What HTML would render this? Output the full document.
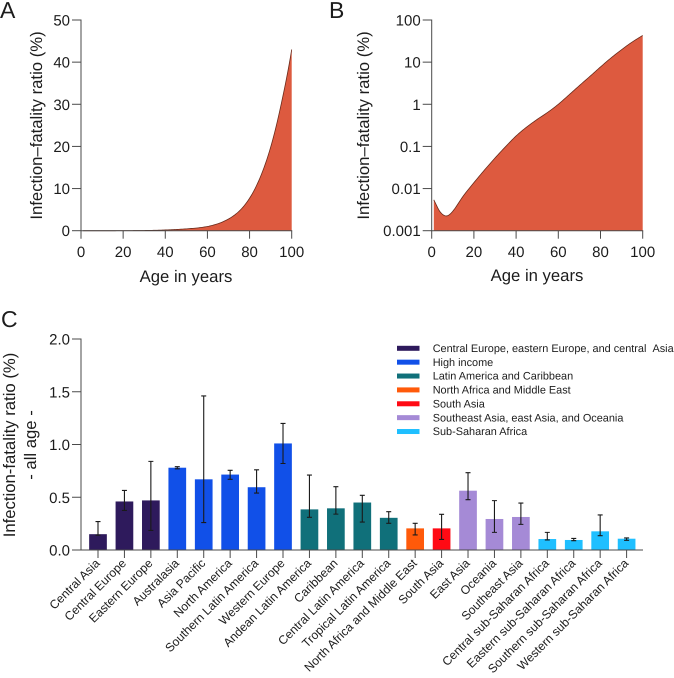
<!DOCTYPE html>
<html>
<head>
<meta charset="utf-8">
<style>
html,body{margin:0;padding:0;background:#fff;width:674px;height:678px;overflow:hidden}
svg{display:block}
text{font-family:"Liberation Sans",Arial,sans-serif;fill:#1c1c1c;text-rendering:geometricPrecision}
</style>
</head>
<body>
<svg id="fig" xmlns="http://www.w3.org/2000/svg" width="674" height="678" viewBox="0 0 674 678">
<rect width="674" height="678" fill="#fff"/>
<text x="0" y="18" font-size="23">A</text>
<text x="329" y="18" font-size="23">B</text>
<text x="1" y="327" font-size="23">C</text>
<text transform="translate(42,125.5) rotate(-90)" text-anchor="middle" font-size="16.7">Infection–fatality ratio (%)</text>
<text x="186" y="282" text-anchor="middle" font-size="16.7">Age in years</text>
<text transform="translate(369,125.5) rotate(-90)" text-anchor="middle" font-size="16.7">Infection–fatality ratio (%)</text>
<text x="537" y="281" text-anchor="middle" font-size="16.7">Age in years</text>
<text transform="translate(15,445) rotate(-90)" text-anchor="middle" font-size="16.7">Infection-fatality ratio (%)</text>
<text transform="translate(36,445) rotate(-90)" text-anchor="middle" font-size="16.7">- all age -</text>
<g id="a"></g>
<g id="b"></g>
<g id="c"></g>
<g id="legend"></g>
</svg>
<script>
var ages = [1,4,7,10,15,20,25,30,35,40,45,50,55,60,65,70,75,80,85,90,95,100];
var ifr = [0.0054,0.0028,0.00224,0.0029,0.0067,0.0138,0.0275,0.053,0.0986,0.177,0.288,0.438,0.645,1.0,1.66,2.78,4.6,7.7,12.6,19.8,30,43];
var ageTicks = [0,20,40,60,80,100];
var linearTicks = [0,10,20,30,40,50];
var logTicks = [0.001,0.01,0.1,1,10,100];
var logTickLabels = ['0.001','0.01','0.1','1','10','100'];
var regionNames = ['Central Asia','Central Europe','Eastern Europe','Australasia','Asia Pacific','North America','Southern Latin America','Western Europe','Andean Latin America','Caribbean','Central Latin America','Tropical Latin America','North Africa and Middle East','South Asia','East Asia','Oceania','Southeast Asia','Central sub-Saharan Africa','Eastern sub-Saharan Africa','Southern sub-Saharan Africa','Western sub-Saharan Africa'];
var regionValues = [0.15,0.46,0.47,0.78,0.67,0.715,0.595,1.01,0.385,0.395,0.45,0.305,0.205,0.205,0.562,0.294,0.313,0.104,0.095,0.177,0.107];
var regionLows = [0.14,0.375,0.185,0.77,0.26,0.67,0.54,0.82,0.31,0.34,0.265,0.253,0.143,0.10,0.477,0.167,0.243,0.095,0.088,0.136,0.092];
var regionHighs = [0.27,0.565,0.84,0.79,1.46,0.755,0.76,1.2,0.71,0.6,0.518,0.363,0.253,0.338,0.733,0.468,0.445,0.167,0.11,0.332,0.114];
var regionGroups = [0,0,0,1,1,1,1,1,2,2,2,2,3,4,5,5,5,6,6,6,6];
var groupNames = ['Central Europe, eastern Europe, and central\u00A0\u00A0Asia','High income','Latin America and Caribbean','North Africa and Middle East','South Asia','Southeast Asia, east Asia, and Oceania','Sub-Saharan Africa'];
var groupColors = ['#2e1a5c','#1150e8','#10707a','#ff5a0a','#ff0a14','#a58ad6','#1fbfff'];
var barTicks = [0,0.5,1,1.5,2];
var barTickLabels = ['0.0','0.5','1.0','1.5','2.0'];

var NS = 'http://www.w3.org/2000/svg';
function mk(parent, tag, attrs, txt){
  var e = document.createElementNS(NS, tag);
  for (var k in attrs) e.setAttribute(k, attrs[k]);
  if (txt !== undefined) e.textContent = txt;
  parent.appendChild(e);
  return e;
}
var AXC = '#4a4a4a', el;

// Smooth curve through the read values: Catmull-Rom in log space, evaluated finely for drawing.
function smoothCurve(){
  var logs = ifr.map(function(v){ return Math.log10(v); });
  var out = [];
  function slope(i){
    var a = Math.max(i - 1, 0), b = Math.min(i + 1, ages.length - 1);
    return (logs[b] - logs[a]) / (ages[b] - ages[a]);
  }
  for (var i = 0; i < ages.length - 1; i++){
    var h = ages[i + 1] - ages[i], m0 = slope(i), m1 = slope(i + 1);
    for (var s = 0; s < 8; s++){
      var t = s / 8, t2 = t * t, t3 = t2 * t;
      var l = (2*t3 - 3*t2 + 1) * logs[i] + (t3 - 2*t2 + t) * h * m0 + (-2*t3 + 3*t2) * logs[i + 1] + (t3 - t2) * h * m1;
      out.push([ages[i] + t * h, Math.pow(10, l)]);
    }
  }
  out.push([ages[ages.length - 1], ifr[ifr.length - 1]]);
  return out;
}

function drawPanel(g, prefix, x0, x1, yFn, yTickVals, yTickLabels, yTop, yBot, xLabelY){
  var xFn = function(v){ return x0 + (x1 - x0) * v / 100; };
  var pts = smoothCurve();
  var d = pts.map(function(p, i){
    return (i ? 'L' : 'M') + xFn(p[0]).toFixed(2) + ' ' + Math.min(yFn(p[1]), yBot).toFixed(2);
  }).join('');
  el = mk(g, 'path', {d: d + 'L' + xFn(pts[pts.length - 1][0]).toFixed(2) + ' ' + yBot + 'L' + xFn(pts[0][0]).toFixed(2) + ' ' + yBot + 'Z', fill: '#dd5a3f'});
  
  
  el = mk(g, 'path', {d: d, fill: 'none', stroke: '#6a2a1a', 'stroke-width': 0.8});
  
  
  el = mk(g, 'line', {x1: x0, x2: x0, y1: yTop - 0.5, y2: yBot + 0.5, stroke: AXC, 'stroke-width': 1});
  
  
  el = mk(g, 'line', {x1: x0 - 0.5, x2: x1 + 0.5, y1: yBot, y2: yBot, stroke: AXC, 'stroke-width': 1});
  
  
  yTickVals.forEach(function(v, i){
    var y = yFn(v);
    el = mk(g, 'line', {x1: x0 - 9, x2: x0, y1: y, y2: y, stroke: AXC, 'stroke-width': 1});
    
    
    el = mk(g, 'text', {x: x0 - 11, y: y + 5.5, 'text-anchor': 'end', 'font-size': 15}, yTickLabels[i]);
    
    
  });
  ageTicks.forEach(function(v){
    var x = xFn(v);
    el = mk(g, 'line', {x1: x, x2: x, y1: yBot, y2: yBot + 8, stroke: AXC, 'stroke-width': 1});
    
    
    el = mk(g, 'text', {x: x, y: xLabelY, 'text-anchor': 'middle', 'font-size': 15}, String(v));
    
    
  });
}

var yTop = 20, yBot = 230.7;
drawPanel(document.getElementById('a'), 'panel-a', 81, 291.7,
  function(v){ return yBot - (yBot - yTop) * v / 50; },
  linearTicks, linearTicks.map(String), yTop, yBot, 257);
drawPanel(document.getElementById('b'), 'panel-b', 431.7, 642.7,
  function(v){ return yBot - (yBot - yTop) * (Math.log10(v) + 3) / 5; },
  logTicks, logTickLabels, yTop, yBot, 257);

var gc = document.getElementById('c');
var cTop = 339, cBot = 550, cX0 = 81, cX1 = 643;
function yC(v){ return cBot - (cBot - cTop) * v / 2; }
function xC(i){ return 98 + i * 26.43; }
var barW = 17.7, capW = 5;
regionNames.forEach(function(name, i){
  var x = xC(i);
  el = mk(gc, 'rect', {x: x - barW / 2, y: yC(regionValues[i]), width: barW, height: cBot - yC(regionValues[i]), fill: groupColors[regionGroups[i]]});
  
  
  var yl = yC(regionLows[i]), yh = yC(regionHighs[i]);
  el = mk(gc, 'path', {d: 'M' + x + ' ' + yl + 'V' + yh + 'M' + (x - capW / 2) + ' ' + yh + 'H' + (x + capW / 2) + 'M' + (x - capW / 2) + ' ' + yl + 'H' + (x + capW / 2), stroke: '#1a1a1a', 'stroke-width': 1.1, fill: 'none'});
  
  
  el = mk(gc, 'line', {x1: x, x2: x, y1: cBot, y2: cBot + 8, stroke: AXC, 'stroke-width': 1});
  
  
  el = mk(gc, 'text', {transform: 'translate(' + (x + 2.5) + ',' + (cBot + 14) + ') rotate(-45)', 'text-anchor': 'end', 'font-size': 12.1, fill: '#2a2a2a'}, name);
  
  
});
el = mk(gc, 'line', {x1: cX0, x2: cX0, y1: cTop - 0.5, y2: cBot + 0.5, stroke: AXC, 'stroke-width': 1});


el = mk(gc, 'line', {x1: cX0 - 9, x2: cX1, y1: cBot, y2: cBot, stroke: AXC, 'stroke-width': 1});


barTicks.forEach(function(v, i){
  var y = yC(v);
  el = mk(gc, 'line', {x1: cX0 - 9, x2: cX0, y1: y, y2: y, stroke: AXC, 'stroke-width': 1});
  
  
  el = mk(gc, 'text', {x: cX0 - 11, y: y + 5.5, 'text-anchor': 'end', 'font-size': 15}, barTickLabels[i]);
  
  
});

var lg = document.getElementById('legend');
groupNames.forEach(function(name, i){
  var y = 348.3 + i * 13.87;
  el = mk(lg, 'rect', {x: 397, y: y - 2.5, width: 22.5, height: 5, fill: groupColors[i]});
  
  
  el = mk(lg, 'text', {x: 432.7, y: y + 3.6, 'font-size': 10.9, fill: '#2a2a2a'}, name);
  
  
});
</script>
</body>
</html>
